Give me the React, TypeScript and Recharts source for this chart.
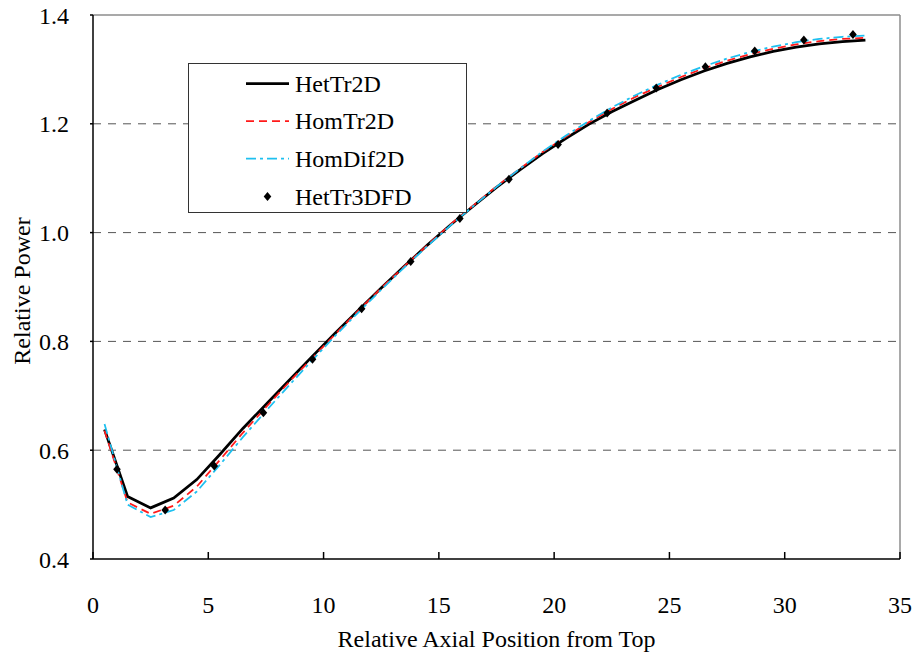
import React from "react";
import {
  ComposedChart,
  Line,
  Scatter,
  XAxis,
  YAxis,
  CartesianGrid,
  ReferenceLine,
  Legend,
  Label,
} from "recharts";

// axial positions of the 2D solutions (mesh centres)
const positions = [
  0.5, 1.5, 2.5, 3.5, 4.5, 5.5, 6.5, 7.5, 8.5, 9.5, 10.5, 11.5, 12.5, 13.5,
  14.5, 15.5, 16.5, 17.5, 18.5, 19.5, 20.5, 21.5, 22.5, 23.5, 24.5, 25.5, 26.5,
  27.5, 28.5, 29.5, 30.5, 31.5, 32.5, 33.5,
];

const hetTr2D = [
  0.638, 0.515, 0.494, 0.512, 0.546, 0.592, 0.64, 0.684, 0.728, 0.772, 0.815,
  0.857, 0.898, 0.938, 0.977, 1.014, 1.049, 1.083, 1.115, 1.145, 1.173, 1.199,
  1.222, 1.243, 1.263, 1.281, 1.297, 1.311, 1.323, 1.333, 1.341, 1.347, 1.351,
  1.354,
];

const homTr2D = [
  0.636, 0.504, 0.483, 0.498, 0.533, 0.582, 0.632, 0.679, 0.725, 0.769, 0.813,
  0.856, 0.898, 0.938, 0.977, 1.015, 1.05, 1.085, 1.117, 1.148, 1.176, 1.203,
  1.227, 1.249, 1.268, 1.286, 1.302, 1.316, 1.328, 1.338, 1.346, 1.352, 1.356,
  1.358,
];

const homDif2D = [
  0.648, 0.5, 0.477, 0.49, 0.524, 0.573, 0.624, 0.672, 0.719, 0.765, 0.81,
  0.853, 0.895, 0.936, 0.975, 1.013, 1.049, 1.084, 1.117, 1.149, 1.178, 1.205,
  1.23, 1.252, 1.272, 1.29, 1.306, 1.32, 1.332, 1.342, 1.35, 1.356, 1.36,
  1.362,
];

// 3D reference positions and values
const fdPositions = [
  1.04, 3.13, 5.26, 7.39, 9.52, 11.65, 13.78, 15.91, 18.04, 20.17, 22.3, 24.43,
  26.56, 28.7, 30.83, 32.96,
];
const hetTr3DFD = [
  0.565, 0.49, 0.571, 0.669, 0.767, 0.86, 0.947, 1.026, 1.098, 1.162, 1.22,
  1.266, 1.305, 1.334, 1.354, 1.364,
];

const xTicks = [0, 5, 10, 15, 20, 25, 30, 35];
const yTicks = [0.4, 0.6, 0.8, 1.0, 1.2, 1.4];
const gridValues = [0.6, 0.8, 1.0, 1.2];

const font = "Liberation Serif, Tinos, DejaVu Serif, serif";

const toPoints = (xs: number[], ys: number[]) =>
  xs.map((x, i) => ({ x, y: ys[i] }));

const series = [
  { name: "HetTr2D", data: toPoints(positions, hetTr2D), color: "#000000", width: 2.75, dash: undefined as string | undefined },
  { name: "HomTr2D", data: toPoints(positions, homTr2D), color: "#FF1A1A", width: 1.75, dash: "8 5" },
  { name: "HomDif2D", data: toPoints(positions, homDif2D), color: "#1EC0F0", width: 1.75, dash: "10 4 3 4" },
];

const fdData = toPoints(fdPositions, hetTr3DFD);

const Diamond = (props: any) => {
  const { cx, cy } = props;
  if (cx == null || cy == null) return null;
  return (
    <polygon
      points={`${cx},${cy - 4.5} ${cx + 3.8},${cy} ${cx},${cy + 4.5} ${cx - 3.8},${cy}`}
      fill="#000"
    />
  );
};

const textStyle = { fontFamily: font, fontSize: 24 };

const LegendBox = () => {
  const rows = [20.5, 58, 95.5, 133.5];
  return (
    <svg width={279} height={150} style={{ display: "block", background: "#fff" }}>
      <rect x={0.5} y={0.5} width={278} height={149} fill="#fff" stroke="#333" strokeWidth={1} />
      {series.map((s, i) => (
        <g key={s.name}>
          <line
            x1={58}
            x2={101}
            y1={rows[i]}
            y2={rows[i]}
            stroke={s.color}
            strokeWidth={s.width}
            strokeDasharray={s.dash}
          />
          <text x={107} y={rows[i] + 8.3} style={textStyle} fill="#000">
            {s.name}
          </text>
        </g>
      ))}
      <Diamond cx={79.5} cy={rows[3]} />
      <text x={107} y={rows[3] + 8.3} style={textStyle} fill="#000">
        HetTr3DFD
      </text>
    </svg>
  );
};

const YTitle = (props: any) => {
  const { viewBox } = props;
  const cy = viewBox.y + viewBox.height / 2 + 4;
  const cx = 22;
  return (
    <text
      x={cx}
      y={cy}
      transform={`rotate(-90, ${cx}, ${cy})`}
      textAnchor="middle"
      dominantBaseline="central"
      style={textStyle}
      fill="#000"
    >
      Relative Power
    </text>
  );
};

export default function App() {
  return (
    <div style={{ position: "absolute", left: 0, top: 0, background: "#fff", fontFamily: font }}>
      <ComposedChart
        width={916}
        height={653}
        margin={{ top: 15, right: 16, bottom: 0, left: 0 }}
        style={{ fontFamily: font }}
      >
        <CartesianGrid
          horizontal
          vertical={false}
          horizontalValues={gridValues}
          stroke="#555"
          strokeDasharray="8 7"
        />
        <ReferenceLine y={1.4} stroke="#8c8c8c" strokeWidth={1.5} />
        <ReferenceLine x={35} stroke="#8c8c8c" strokeWidth={1.5} />
        <XAxis
          type="number"
          dataKey="x"
          domain={[0, 35]}
          ticks={xTicks}
          height={94}
          tickSize={-7}
          tickMargin={44}
          stroke="#000"
          strokeWidth={1.5}
          tick={{ fill: "#000", fontSize: 24, style: textStyle }}
        >
          <Label
            value="Relative Axial Position from Top"
            position="insideBottom"
            offset={6}
            fill="#000"
            fontSize={24}
            style={textStyle}
          />
        </XAxis>
        <YAxis
          type="number"
          dataKey="y"
          domain={[0.4, 1.4]}
          ticks={yTicks}
          width={93}
          tickSize={3}
          tickMargin={21}
          stroke="#000"
          strokeWidth={1.5}
          tickFormatter={(v: number) => v.toFixed(1)}
          tick={{ fill: "#000", fontSize: 24, style: textStyle }}
        >
          <Label content={<YTitle />} />
        </YAxis>
        {series.map((s) => (
          <Line
            key={s.name}
            name={s.name}
            data={s.data}
            dataKey="y"
            type="linear"
            stroke={s.color}
            strokeWidth={s.width}
            strokeDasharray={s.dash}
            dot={false}
            activeDot={false}
            isAnimationActive={false}
          />
        ))}
        <Scatter
          name="HetTr3DFD"
          data={fdData}
          dataKey="y"
          fill="#000"
          shape={<Diamond />}
          isAnimationActive={false}
        />
        <Legend
          layout="vertical"
          align="center"
          verticalAlign="middle"
          wrapperStyle={{ left: 188, top: 63, width: 279, height: 150 }}
          content={() => <LegendBox />}
        />
      </ComposedChart>
    </div>
  );
}
